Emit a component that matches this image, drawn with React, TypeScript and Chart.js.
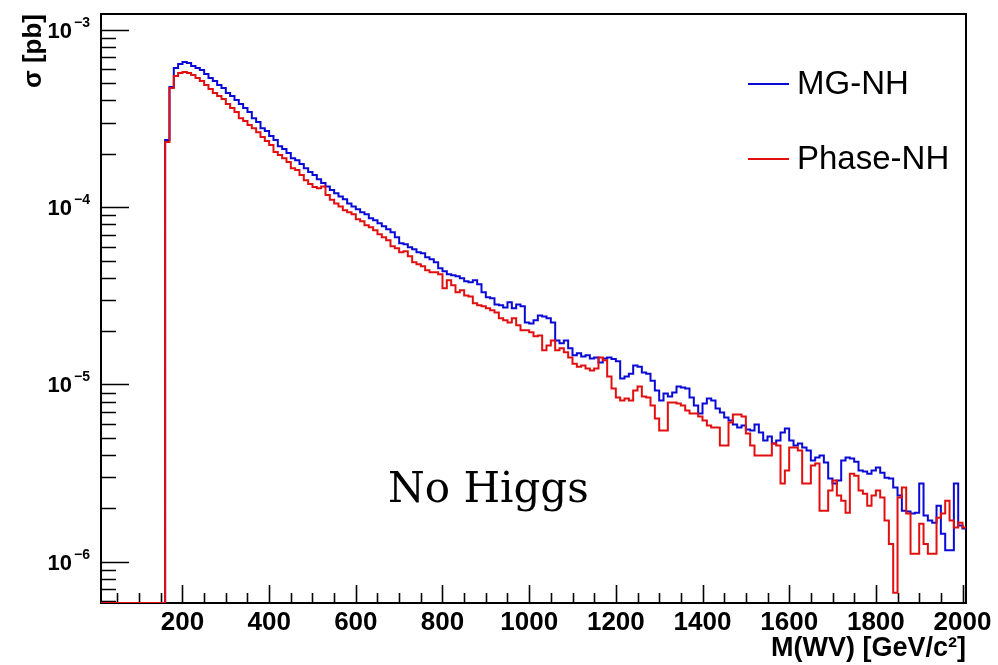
import { useEffect, useRef } from 'react';
import { Chart, registerables } from 'chart.js';

Chart.register(...registerables);

// ---- data ----
const BIN_LOW = 10; // GeV, lower edge of first bin
const BIN_WIDTH = 10; // GeV
const SERIES_LABELS = ['MG-NH', 'Phase-NH'];

// sigma per bin [pb], bins [10,20) ... [2000,2010)
const MG_NH = [
  0, 0, 0, 0, 0, 0, 0, 0, 0, 0,
  0, 0, 0, 0, 0, 2.39e-4, 4.76e-4, 6.10e-4, 6.43e-4, 6.60e-4,
  6.51e-4, 6.26e-4, 6.10e-4, 5.94e-4, 5.64e-4, 5.36e-4, 5.15e-4, 4.89e-4, 4.70e-4, 4.41e-4,
  4.24e-4, 4.02e-4, 3.82e-4, 3.63e-4, 3.44e-4, 3.18e-4, 3.02e-4, 2.79e-4, 2.69e-4, 2.52e-4,
  2.39e-4, 2.21e-4, 2.13e-4, 2.02e-4, 1.89e-4, 1.84e-4, 1.75e-4, 1.66e-4, 1.58e-4, 1.52e-4,
  1.44e-4, 1.37e-4, 1.31e-4, 1.25e-4, 1.20e-4, 1.15e-4, 1.11e-4, 1.05e-4, 1.01e-4, 9.74e-5,
  9.37e-5, 9.13e-5, 8.67e-5, 8.44e-5, 8.12e-5, 7.81e-5, 7.51e-5, 7.22e-5, 6.77e-5, 6.26e-5,
  6.18e-5, 5.94e-5, 5.79e-5, 5.57e-5, 5.50e-5, 5.22e-5, 5.08e-5, 4.89e-5, 4.52e-5, 4.35e-5,
  4.18e-5, 4.13e-5, 4.08e-5, 3.97e-5, 3.82e-5, 3.77e-5, 3.87e-5, 3.67e-5, 3.31e-5, 3.10e-5,
  3.06e-5, 2.83e-5, 2.80e-5, 2.72e-5, 2.91e-5, 2.69e-5, 2.83e-5, 2.76e-5, 2.24e-5, 2.21e-5,
  2.30e-5, 2.45e-5, 2.42e-5, 2.36e-5, 2.24e-5, 1.77e-5, 1.71e-5, 1.77e-5, 1.60e-5, 1.46e-5,
  1.50e-5, 1.44e-5, 1.46e-5, 1.40e-5, 1.42e-5, 1.33e-5, 1.40e-5, 1.42e-5, 1.39e-5, 1.35e-5,
  1.08e-5, 1.11e-5, 1.15e-5, 1.28e-5, 1.26e-5, 1.17e-5, 1.15e-5, 1.05e-5, 9.25e-6, 8.12e-6,
  8.90e-6, 8.56e-6, 9.01e-6, 9.75e-6, 9.62e-6, 9.50e-6, 8.45e-6, 7.61e-6, 6.86e-6, 7.81e-6,
  8.34e-6, 8.12e-6, 7.32e-6, 6.95e-6, 6.51e-6, 6.26e-6, 5.95e-6, 5.72e-6, 5.87e-6, 5.57e-6,
  5.50e-6, 5.95e-6, 5.36e-6, 4.83e-6, 5.09e-6, 4.64e-6, 4.83e-6, 5.36e-6, 5.64e-6, 4.83e-6,
  4.53e-6, 4.64e-6, 4.41e-6, 4.24e-6, 3.72e-6, 3.87e-6, 3.97e-6, 3.63e-6, 2.95e-6, 2.76e-6,
  2.87e-6, 3.72e-6, 3.87e-6, 3.82e-6, 3.67e-6, 3.27e-6, 3.23e-6, 3.14e-6, 3.27e-6, 3.40e-6,
  3.18e-6, 2.98e-6, 2.95e-6, 2.62e-6, 2.36e-6, 1.94e-6, 1.92e-6, 1.87e-6, 1.89e-6, 2.76e-6,
  1.82e-6, 1.71e-6, 1.66e-6, 2.07e-6, 1.44e-6, 1.16e-6, 1.16e-6, 2.76e-6, 1.60e-6, 1.54e-6,
];

const PHASE_NH = [
  0, 0, 0, 0, 0, 0, 0, 0, 0, 0,
  0, 0, 0, 0, 0, 2.33e-4, 4.70e-4, 5.50e-4, 5.72e-4, 5.79e-4,
  5.72e-4, 5.57e-4, 5.36e-4, 5.15e-4, 4.89e-4, 4.64e-4, 4.41e-4, 4.24e-4, 4.08e-4, 3.82e-4,
  3.63e-4, 3.44e-4, 3.18e-4, 3.06e-4, 2.91e-4, 2.79e-4, 2.65e-4, 2.49e-4, 2.36e-4, 2.24e-4,
  2.05e-4, 1.97e-4, 1.89e-4, 1.80e-4, 1.66e-4, 1.62e-4, 1.52e-4, 1.42e-4, 1.35e-4, 1.30e-4,
  1.28e-4, 1.31e-4, 1.17e-4, 1.10e-4, 1.05e-4, 1.01e-4, 9.62e-5, 9.37e-5, 9.13e-5, 8.56e-5,
  8.34e-5, 7.91e-5, 7.71e-5, 7.41e-5, 7.04e-5, 6.77e-5, 6.51e-5, 6.02e-5, 5.87e-5, 5.57e-5,
  5.64e-5, 5.29e-5, 4.89e-5, 4.76e-5, 4.64e-5, 4.41e-5, 4.29e-5, 4.29e-5, 4.18e-5, 3.49e-5,
  3.87e-5, 3.63e-5, 3.31e-5, 3.40e-5, 3.18e-5, 3.14e-5, 2.87e-5, 2.80e-5, 2.76e-5, 2.69e-5,
  2.62e-5, 2.55e-5, 2.36e-5, 2.30e-5, 2.24e-5, 2.36e-5, 2.16e-5, 2.02e-5, 2.02e-5, 1.97e-5,
  1.87e-5, 1.89e-5, 1.56e-5, 1.66e-5, 1.77e-5, 1.56e-5, 1.60e-5, 1.52e-5, 1.42e-5, 1.31e-5,
  1.26e-5, 1.28e-5, 1.23e-5, 1.20e-5, 1.23e-5, 1.42e-5, 1.37e-5, 1.11e-5, 9.50e-6, 8.45e-6,
  8.12e-6, 8.34e-6, 8.12e-6, 9.25e-6, 9.75e-6, 8.56e-6, 8.45e-6, 7.61e-6, 6.43e-6, 5.50e-6,
  5.50e-6, 7.92e-6, 7.92e-6, 7.81e-6, 7.61e-6, 7.13e-6, 6.86e-6, 6.86e-6, 6.60e-6, 6.26e-6,
  5.87e-6, 5.72e-6, 5.72e-6, 4.53e-6, 4.53e-6, 6.10e-6, 6.77e-6, 6.77e-6, 6.60e-6, 5.29e-6,
  4.53e-6, 3.97e-6, 3.97e-6, 3.97e-6, 3.97e-6, 4.64e-6, 4.53e-6, 2.76e-6, 3.27e-6, 4.41e-6,
  4.41e-6, 4.24e-6, 2.76e-6, 2.76e-6, 3.49e-6, 3.58e-6, 1.94e-6, 1.94e-6, 2.52e-6, 2.87e-6,
  2.36e-6, 2.21e-6, 1.89e-6, 3.14e-6, 3.06e-6, 2.52e-6, 2.42e-6, 2.07e-6, 2.36e-6, 2.52e-6,
  2.30e-6, 1.71e-6, 1.26e-6, 6.69e-7, 2.30e-6, 2.62e-6, 1.87e-6, 1.11e-6, 1.11e-6, 1.64e-6,
  1.26e-6, 1.11e-6, 1.11e-6, 1.77e-6, 1.87e-6, 2.21e-6, 1.71e-6, 1.56e-6, 1.66e-6, 1.56e-6,
];

// ---- axes ----
const X_MIN = 12;
const X_MAX = 2008;
const X_MAJOR_TICKS = [200, 400, 600, 800, 1000, 1200, 1400, 1600, 1800, 2000];
const X_MINOR_STEP = 50;
const Y_MIN = 5.85e-7;
const Y_MAX = 1.23e-3;
const Y_DECADES = [1e-6, 1e-5, 1e-4, 1e-3];
const Y_DECADE_EXPONENTS = ['\u22126', '\u22125', '\u22124', '\u22123'];
const X_TITLE = 'M(WV) [GeV/c\u00B2]';
const Y_TITLE = '\u03C3 [pb]';
const ANNOTATION = 'No Higgs';

const BLUE = 'rgb(10,10,215)';
const RED = 'rgb(225,15,15)';
const SANS = '"Liberation Sans", Arial, Helvetica, sans-serif';

function histPoints(vals: number[]) {
  const pts = vals.map((v, i) => ({ x: BIN_LOW + i * BIN_WIDTH, y: v > 0 ? v : Y_MIN }));
  const last = vals[vals.length - 1];
  pts.push({ x: BIN_LOW + vals.length * BIN_WIDTH, y: last > 0 ? last : Y_MIN });
  return pts;
}

const framePlugin = {
  id: 'rootFrame',
  beforeDatasetsDraw(chart: any) {
    const { ctx, chartArea, scales } = chart;
    const { left, top, right, bottom } = chartArea;
    const x = scales.x;
    const y = scales.y;
    ctx.save();
    ctx.strokeStyle = '#000';
    ctx.lineWidth = 2;
    ctx.strokeRect(left, top, right - left, bottom - top);
    ctx.lineWidth = 1.6;
    ctx.beginPath();
    for (let v = X_MINOR_STEP; v <= X_MAX; v += X_MINOR_STEP) {
      const px = Math.round(x.getPixelForValue(v)) + 0.5;
      const len = X_MAJOR_TICKS.includes(v) ? 18 : 10;
      ctx.moveTo(px, bottom);
      ctx.lineTo(px, bottom - len);
    }
    for (let e = -7; e <= -3; e++) {
      for (let m = 1; m <= 9; m++) {
        const v = m * Math.pow(10, e);
        if (v < Y_MIN || v > Y_MAX) continue;
        const py = Math.round(y.getPixelForValue(v)) + 0.5;
        const len = m === 1 ? 28 : 15;
        ctx.moveTo(left, py);
        ctx.lineTo(left + len, py);
      }
    }
    ctx.stroke();
    // y tick labels 10^n
    ctx.fillStyle = '#000';
    Y_DECADES.forEach((d, i) => {
      const py = y.getPixelForValue(d);
      ctx.font = `bold 22px ${SANS}`;
      ctx.textAlign = 'right';
      ctx.textBaseline = 'alphabetic';
      ctx.fillText('10', 72, py + 8);
      ctx.font = `bold 14px ${SANS}`;
      ctx.textAlign = 'left';
      ctx.fillText(Y_DECADE_EXPONENTS[i], 74, py - 3);
    });
    ctx.restore();
  },
  afterDatasetsDraw(chart: any) {
    const { ctx } = chart;
    ctx.save();
    const rows = [
      { label: SERIES_LABELS[0], color: BLUE, y: 84 },
      { label: SERIES_LABELS[1], color: RED, y: 159 },
    ];
    rows.forEach((r) => {
      ctx.strokeStyle = r.color;
      ctx.lineWidth = 2;
      ctx.beginPath();
      ctx.moveTo(748, r.y);
      ctx.lineTo(789, r.y);
      ctx.stroke();
      ctx.fillStyle = '#000';
      ctx.font = `33px ${SANS}`;
      ctx.textAlign = 'left';
      ctx.textBaseline = 'middle';
      ctx.fillText(r.label, 797, r.y + 1);
    });
    ctx.font = '42px "DejaVu Serif", "Liberation Serif", serif';
    ctx.textAlign = 'left';
    ctx.textBaseline = 'alphabetic';
    ctx.fillStyle = '#000';
    ctx.fillText(ANNOTATION, 388, 502);
    ctx.restore();
  },
};

export default function App() {
  const canvasRef = useRef<HTMLCanvasElement>(null);
  useEffect(() => {
    const canvas = canvasRef.current;
    if (!canvas) return;
    const chart = new Chart(canvas, {
      type: 'line',
      data: {
        datasets: [
          {
            label: SERIES_LABELS[1],
            data: histPoints(PHASE_NH),
            borderColor: RED,
            borderWidth: 2,
            stepped: 'before',
            pointRadius: 0,
            fill: false,
            order: 0,
          },
          {
            label: SERIES_LABELS[0],
            data: histPoints(MG_NH),
            borderColor: BLUE,
            borderWidth: 2,
            stepped: 'before',
            pointRadius: 0,
            fill: false,
            order: 1,
          },
        ],
      },
      options: {
        responsive: false,
        animation: false,
        devicePixelRatio: 1,
        layout: { padding: { top: 14, right: 32, left: 0, bottom: 0 } },
        plugins: { legend: { display: false }, tooltip: { enabled: false } },
        scales: {
          x: {
            type: 'linear',
            min: X_MIN,
            max: X_MAX,
            grid: { display: false, drawTicks: false },
            border: { display: false },
            afterBuildTicks: (s: any) => {
              s.ticks = X_MAJOR_TICKS.map((v) => ({ value: v }));
            },
            afterFit: (s: any) => {
              s.height = 62;
              s.paddingLeft = 0;
              s.paddingRight = 0;
            },
            ticks: {
              color: '#000',
              font: { family: SANS, size: 26, weight: 'bold' },
              padding: 4,
              maxRotation: 0,
              autoSkip: false,
              callback: (v: any) => String(v),
            },
            title: {
              display: true,
              text: X_TITLE,
              align: 'end',
              color: '#000',
              font: { family: SANS, size: 27, weight: 'bold' },
              padding: { top: 0, bottom: 0 },
            },
          },
          y: {
            type: 'logarithmic',
            min: Y_MIN,
            max: Y_MAX,
            grid: { display: false, drawTicks: false },
            border: { display: false },
            ticks: { display: false },
            afterFit: (s: any) => {
              s.width = 101;
              s.paddingTop = 0;
              s.paddingBottom = 0;
            },
            title: {
              display: true,
              text: Y_TITLE,
              align: 'end',
              color: '#000',
              font: { family: SANS, size: 26, weight: 'bold' },
              padding: { top: 18, bottom: 0 },
            },
          },
        },
      },
      plugins: [framePlugin],
    } as any);
    return () => chart.destroy();
  }, []);
  return (
    <div style={{ position: 'fixed', left: 0, top: 0, width: 998, height: 665, background: '#fff' }}>
      <canvas ref={canvasRef} width={998} height={665} style={{ display: 'block' }} />
    </div>
  );
}
